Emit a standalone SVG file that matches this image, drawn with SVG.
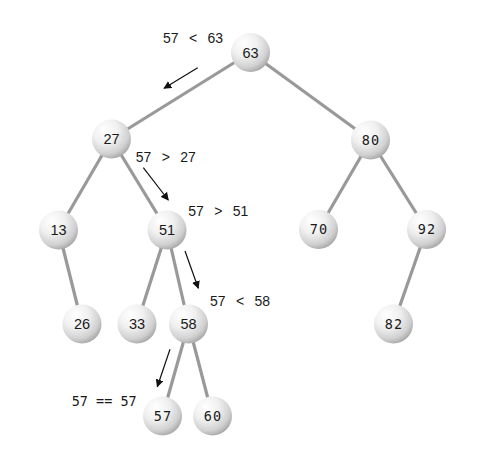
<svg xmlns="http://www.w3.org/2000/svg" width="493" height="451" viewBox="0 0 493 451">
<style>
.edge{stroke:#999;stroke-width:3.2;fill:none}
.arrow{stroke:#111;stroke-width:1.2;fill:none;marker-end:url(#ah)}
.ball{fill:url(#g)}
.sans{font-family:"Liberation Sans",Arial,sans-serif;font-size:14.5px;fill:#1a1a1a}
.mono{font-family:"DejaVu Sans Mono","Liberation Mono",monospace;font-size:13.5px;fill:#1a1a1a;letter-spacing:1px}
.lbl{font-family:"Liberation Sans",Arial,sans-serif;font-size:14px;fill:#1a1a1a;word-spacing:6.5px}
.lblm{font-family:"DejaVu Sans Mono","Liberation Mono",monospace;font-size:13.5px;fill:#1a1a1a}
</style>
<defs>
<radialGradient id="g" cx="0.38" cy="0.32" r="0.72" fx="0.32" fy="0.26">
<stop offset="0" stop-color="#ffffff"/>
<stop offset="0.45" stop-color="#f0f0f0"/>
<stop offset="0.8" stop-color="#d0d0d0"/>
<stop offset="1" stop-color="#a5a5a5"/>
</radialGradient>
<marker id="ah" viewBox="0 0 10 10" refX="9" refY="5" markerWidth="8" markerHeight="8" markerUnits="userSpaceOnUse" orient="auto">
<path d="M0,0 L10,5 L0,10 z" fill="#111"/>
</marker>
</defs>
<rect width="493" height="451" fill="#fff"/>
<g id="connectors">
<line class="edge" x1="250.5" y1="52.5" x2="111.5" y2="139"/>
<line class="edge" x1="250.5" y1="52.5" x2="370.5" y2="140"/>
<line class="edge" x1="111.5" y1="139" x2="58.5" y2="230"/>
<line class="edge" x1="111.5" y1="139" x2="167" y2="230"/>
<line class="edge" x1="58.5" y1="230" x2="82" y2="324"/>
<line class="edge" x1="167" y1="230" x2="137" y2="324"/>
<line class="edge" x1="167" y1="230" x2="188.5" y2="324"/>
<line class="edge" x1="188.5" y1="324" x2="162.5" y2="416"/>
<line class="edge" x1="188.5" y1="324" x2="212.5" y2="416"/>
<line class="edge" x1="370.5" y1="140" x2="318.5" y2="229.5"/>
<line class="edge" x1="370.5" y1="140" x2="426.5" y2="229.5"/>
<line class="edge" x1="426.5" y1="229.5" x2="393.5" y2="324"/>
<line class="arrow" x1="197.7" y1="67.7" x2="164" y2="88.3"/>
<line class="arrow" x1="143.3" y1="167.7" x2="168.3" y2="200"/>
<line class="arrow" x1="185" y1="251" x2="198.3" y2="288.3"/>
<line class="arrow" x1="170" y1="349.3" x2="157.3" y2="386.7"/>
</g>
<g id="n63"><circle class="ball" cx="250.5" cy="52.5" r="19.5"/><text class="sans" x="250.5" y="57.5" text-anchor="middle">63</text></g>
<g id="n27"><circle class="ball" cx="111.5" cy="139" r="19.5"/><text class="sans" x="111.5" y="144" text-anchor="middle">27</text></g>
<g id="n80"><circle class="ball" cx="370.5" cy="140" r="19.5"/><text class="mono" x="371" y="144.5" text-anchor="middle">80</text></g>
<g id="n13"><circle class="ball" cx="58.5" cy="230" r="19.5"/><text class="sans" x="58.5" y="235" text-anchor="middle">13</text></g>
<g id="n51"><circle class="ball" cx="167" cy="230" r="19.5"/><text class="sans" x="167" y="235" text-anchor="middle">51</text></g>
<g id="n70"><circle class="ball" cx="318.5" cy="229.5" r="19.5"/><text class="mono" x="319" y="234" text-anchor="middle">70</text></g>
<g id="n92"><circle class="ball" cx="426.5" cy="229.5" r="19.5"/><text class="mono" x="427" y="234" text-anchor="middle">92</text></g>
<g id="n26"><circle class="ball" cx="82" cy="324" r="19.5"/><text class="sans" x="82" y="329" text-anchor="middle">26</text></g>
<g id="n33"><circle class="ball" cx="137" cy="324" r="19.5"/><text class="sans" x="137" y="329" text-anchor="middle">33</text></g>
<g id="n58"><circle class="ball" cx="188.5" cy="324" r="19.5"/><text class="sans" x="188.5" y="329" text-anchor="middle">58</text></g>
<g id="n82"><circle class="ball" cx="393.5" cy="324" r="19.5"/><text class="mono" x="394" y="328.5" text-anchor="middle">82</text></g>
<g id="n57"><circle class="ball" cx="162.5" cy="416" r="19.5"/><text class="mono" x="163" y="420.5" text-anchor="middle">57</text></g>
<g id="n60"><circle class="ball" cx="212.5" cy="416" r="19.5"/><text class="mono" x="213" y="420.5" text-anchor="middle">60</text></g>
<g id="labels">
<text class="lbl" x="163" y="43">57 &lt; 63</text>
<text class="lbl" x="135.7" y="161.7">57 &gt; 27</text>
<text class="lbl" x="188.3" y="216">57 &gt; 51</text>
<text class="lbl" x="210" y="306">57 &lt; 58</text>
<text class="lblm" x="71.7" y="405.7">57 == 57</text>
</g>
</svg>
